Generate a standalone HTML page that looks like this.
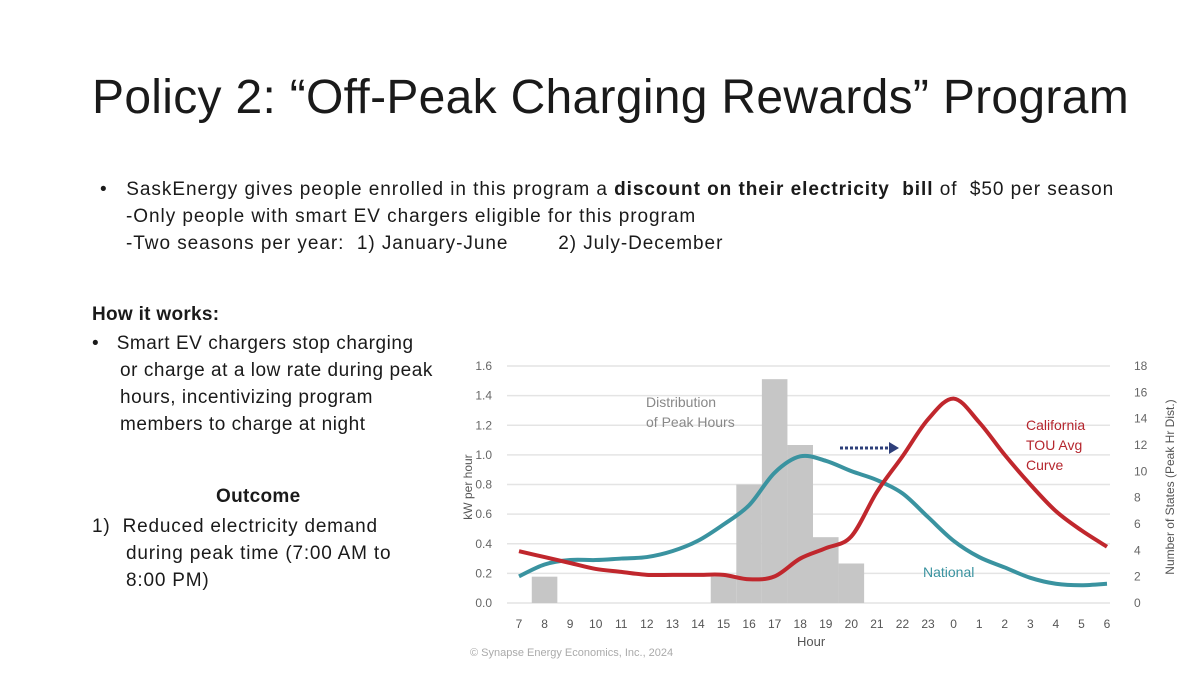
<!DOCTYPE html>
<html><head><meta charset="utf-8">
<style>
body{margin:0;width:1200px;height:675px;background:#fff;overflow:hidden;position:relative;font-family:"Liberation Sans",sans-serif;color:#1a1a1a}
.t{position:absolute;white-space:nowrap}
</style></head><body>
<div class="t" style="left:92px;top:70px;font-size:48px;letter-spacing:0.3px">Policy 2: “Off-Peak Charging Rewards” Program</div>
<div class="t" style="left:100px;top:176px;font-size:19px;line-height:27px;letter-spacing:0.95px">•&nbsp;&nbsp;&nbsp;SaskEnergy gives people enrolled in this program a <b>discount on their electricity&nbsp; bill</b> of&nbsp; $50 per season<br><span style="margin-left:26px">-Only people with smart EV chargers eligible for this program</span><br><span style="margin-left:26px">-Two seasons per year:&nbsp; 1) January-June&nbsp;&nbsp;&nbsp;&nbsp;&nbsp;&nbsp;&nbsp; 2) July-December</span></div>
<div class="t" style="left:92px;top:304px;font-size:19px;font-weight:bold;letter-spacing:0.3px">How it works:</div>
<div class="t" style="left:92px;top:330px;font-size:19px;line-height:27px;letter-spacing:0.55px">•&nbsp;&nbsp;&nbsp;Smart EV chargers stop charging<br><span style="margin-left:28px">or charge at a low rate during peak</span><br><span style="margin-left:28px">hours, incentivizing program</span><br><span style="margin-left:28px">members to charge at night</span></div>
<div class="t" style="left:216px;top:486px;font-size:19px;font-weight:bold;letter-spacing:0.3px">Outcome</div>
<div class="t" style="left:92px;top:513px;font-size:19px;line-height:27px;letter-spacing:0.8px">1)&nbsp;&nbsp;Reduced electricity demand<br><span style="margin-left:34px">during peak time (7:00 AM to</span><br><span style="margin-left:34px">8:00 PM)</span></div>
<svg id="chart" style="position:absolute;left:0;top:0" width="1200" height="675" font-family="Liberation Sans, sans-serif"></svg>
<script>
const hours=["7","8","9","10","11","12","13","14","15","16","17","18","19","20","21","22","23","0","1","2","3","4","5","6"];
const peakCounts=[0,2,0,0,0,0,0,0,2,9,17,12,5,3,0,0,0,0,0,0,0,0,0,0];
const national=[0.18,0.26,0.29,0.29,0.30,0.31,0.35,0.42,0.53,0.66,0.88,0.99,0.96,0.89,0.83,0.74,0.58,0.42,0.31,0.24,0.17,0.13,0.12,0.13];
const california=[0.35,0.31,0.27,0.23,0.21,0.19,0.19,0.19,0.19,0.16,0.18,0.30,0.37,0.45,0.75,0.99,1.24,1.38,1.22,1.00,0.80,0.62,0.49,0.38];
const leftTicks=["0.0","0.2","0.4","0.6","0.8","1.0","1.2","1.4","1.6"];
const rightTicks=["0","2","4","6","8","10","12","14","16","18"];
const svg=document.getElementById('chart');const NS='http://www.w3.org/2000/svg';
function mk(tag,a,txt){const e=document.createElementNS(NS,tag);for(const k in a)e.setAttribute(k,a[k]);if(txt!=null)e.textContent=txt;svg.appendChild(e);return e;}
const x=i=>519+i*(1107-519)/23;
const y=v=>603-v*(603-366)/1.6;
const yr=v=>603-v*(603-366)/18;
leftTicks.forEach(t=>{const v=+t;const g=mk('line',{x1:507,x2:1110,y1:y(v),y2:y(v),stroke:'#e4e4e4','stroke-width':1.5});

const l=mk('text',{x:492,y:y(v)+4,'font-size':12,fill:'#666','text-anchor':'end'},t);
});
rightTicks.forEach(t=>{const l=mk('text',{x:1134,y:yr(+t)+4,'font-size':12,fill:'#666'},t);
});
const bw=x(1)-x(0);
peakCounts.forEach((c,i)=>{if(!c)return;const r=mk('rect',{x:x(i)-bw/2,y:yr(c),width:bw,height:603-yr(c),fill:'#c6c6c6'});
});
hours.forEach((h,i)=>{const l=mk('text',{x:x(i),y:628,'font-size':12,fill:'#555','text-anchor':'middle'},h);
});
function path(vals){const p=vals.map((v,i)=>[x(i),y(v)]);let d='M'+p[0][0]+','+p[0][1];
for(let i=0;i<p.length-1;i++){const p0=p[Math.max(0,i-1)],p1=p[i],p2=p[i+1],p3=p[Math.min(p.length-1,i+2)];
d+=' C'+(p1[0]+(p2[0]-p0[0])/6)+','+(p1[1]+(p2[1]-p0[1])/6)+' '+(p2[0]-(p3[0]-p1[0])/6)+','+(p2[1]-(p3[1]-p1[1])/6)+' '+p2[0]+','+p2[1];}return d;}
const n=mk('path',{d:path(national),fill:'none',stroke:'#3a93a0','stroke-width':4,'stroke-linejoin':'round'});

const c=mk('path',{d:path(california),fill:'none',stroke:'#c0272d','stroke-width':4,'stroke-linejoin':'round'});

const ar=mk('line',{x1:840,x2:890,y1:448,y2:448,stroke:'#2e3f7a','stroke-width':3,'stroke-dasharray':'3,2'});

const ah=mk('path',{d:'M889,442 L899,448 L889,454 Z',fill:'#2e3f7a'});

</script>
<div class="t" style="left:646px;top:392px;font-size:14px;line-height:20px;color:#888">Distribution<br>of Peak Hours</div>
<div class="t" style="left:1026px;top:415px;font-size:14px;line-height:20px;color:#b5262e">California<br>TOU Avg<br>Curve</div>
<div class="t" style="left:923px;top:564px;font-size:14px;color:#3a93a0">National</div>
<div class="t" style="left:418px;top:480px;font-size:12px;color:#555;transform:rotate(-90deg);transform-origin:center;width:100px;text-align:center">kW per hour</div>
<div class="t" style="left:1075px;top:480px;font-size:12px;color:#555;transform:rotate(-90deg);transform-origin:center;width:190px;text-align:center">Number of States (Peak Hr Dist.)</div>
<div class="t" style="left:797px;top:634px;font-size:13px;color:#555">Hour</div>
<div class="t" style="left:470px;top:647px;font-size:11px;color:#aaa">© Synapse Energy Economics, Inc., 2024</div>
</body></html>
